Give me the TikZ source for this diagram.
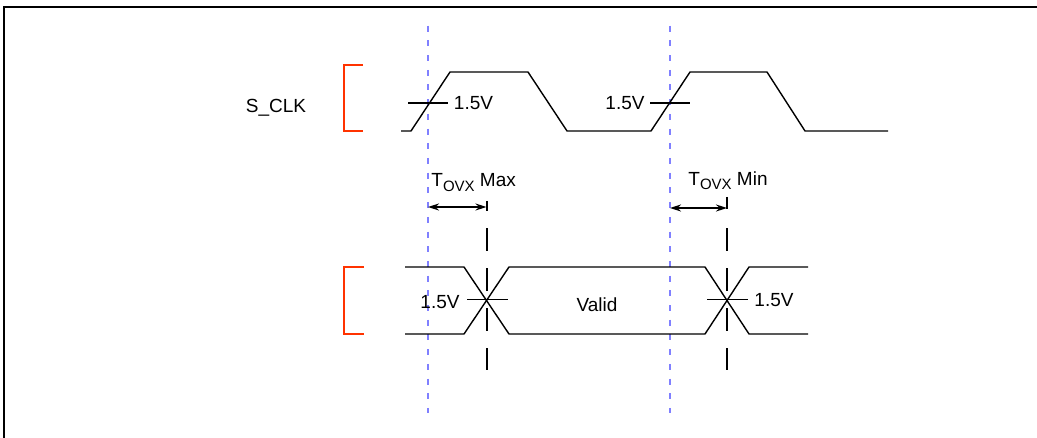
\documentclass[tikz,border=0pt]{standalone}
\usepackage{fontspec}
\setmainfont{Liberation Sans}
\usepackage{xcolor}
\usetikzlibrary{arrows.meta}
\definecolor{guide}{HTML}{8080FF}
\definecolor{redmark}{HTML}{FF3300}
\tikzset{
  frame/.style={draw=black, line width=1pt},
  wave/.style={draw=black, line width=0.7pt, line join=round},
  level/.style={draw=black, line width=0.9pt},
  guideline/.style={draw=guide, line width=1pt, dash pattern=on 3pt off 4.35pt},
  marker/.style={draw=black, line width=1pt, dash pattern=on 11.5pt off 8.5pt},
  redbracket/.style={draw=redmark, line width=1pt},
  timing/.style={draw=black, line width=0.8pt, {Stealth[length=5.5pt,width=3.5pt]}-{Stealth[length=5.5pt,width=3.5pt]}},
  lab/.style={font=\fontsize{9.5}{11}\selectfont, inner sep=0pt}
}
\newcommand{\tovx}{T\raisebox{-0.4ex}{\fontsize{7.5}{9}\selectfont OVX}}

\begin{document}
\begin{tikzpicture}[x=0.5pt, y=-0.5pt]
  \useasboundingbox (0,0) rectangle (1037,438);
  \draw[frame] (3.5,438) -- (3.5,7) -- (1037,7);

  % Reference edges (blue guides)
  \coordinate (gA) at (428,207);
  \coordinate (gB) at (670,208);
  \draw[guideline] (428,25.7) -- (428,413);
  \draw[guideline] (670,25.7) -- (670,413);

  % Signal brackets
  \draw[redbracket] (363,65) -- (344,65) -- (344,131) -- (363,131);
  \draw[redbracket] (364,267) -- (344,267) -- (344,334) -- (364,334);

  \node[lab, anchor=base] (clk) at (276,113) {S\_CLK};

  % S_CLK waveform
  \draw[wave] (401,131) -- (411,131) -- (450,72) -- (528,72) -- (567,131)
    -- (651,131) -- (690,72) -- (767,72) -- (805,131) -- (888,131);

  % 1.5V levels on the clock
  \draw[level] (408,103) -- (448,103);
  \draw[level] (650,103) -- (690,103);
  \node[lab, anchor=base] (lvlA) at (473.5,110) {1.5V};
  \node[lab, anchor=base] (lvlB) at (625,110) {1.5V};

  % Data bus
  \draw[wave] (405,267) -- (464,267) -- (509,334) -- (705,334) -- (749,267) -- (808,267);
  \draw[wave] (405,334) -- (464,334) -- (509,267) -- (705,267) -- (749,334) -- (808,334);
  \draw[level] (467,299.5) -- (508,299.5);
  \draw[level] (707,299.5) -- (748,299.5);
  \node[lab, anchor=base] (lvlC) at (440,308) {1.5V};
  \node[lab, anchor=base] (lvlD) at (774,306) {1.5V};
  \node[lab, anchor=base] (valid) at (597,311) {Valid};

  % Output valid markers
  \coordinate (mA) at (486.5,207);
  \coordinate (mB) at (727,208);
  \draw[black, line width=1pt] (486.5,201) -- (486.5,211);
  \draw[black, line width=1pt] (727,197) -- (727,209);
  \draw[marker] (486.5,228) -- (486.5,370);
  \draw[marker] (727,228) -- (727,370);

  \draw[timing] (gA) -- (mA);
  \draw[timing] (gB) -- (mB);
  \node[lab, anchor=base west] (tmax) at (431,187) {\tovx\ Max};
  \node[lab, anchor=base west] (tmin) at (688,185) {\tovx\ Min};
\end{tikzpicture}
\end{document}
